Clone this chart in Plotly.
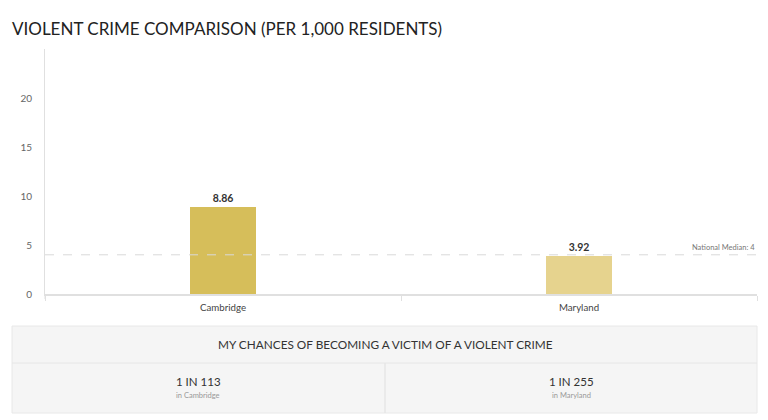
import plotly.graph_objects as go

categories = ["Cambridge", "Maryland"]
values = [8.86, 3.92]
bar_colors = ["#D6BE5A", "#E6D38E"]
national_median = 4
odds = [113, 255]
title_text = "VIOLENT CRIME COMPARISON (PER 1,000 RESIDENTS)"
table_header = "MY CHANCES OF BECOMING A VICTIM OF A VIOLENT CRIME"

W, H = 768, 420
L, R, T, B = 45, 757, 49, 294  # plot area in pixels

def px(x):
    return (x - L) / (R - L)

def py(y):
    return (B - y) / (B - T)

FONT = "Lato, 'Open Sans', sans-serif"

fig = go.Figure()
fig.add_trace(go.Bar(
    x=categories, y=values, width=0.183,
    marker=dict(color=bar_colors, line=dict(width=0)),
    text=[f"{v:.2f}" for v in values], textposition="outside",
    textfont=dict(family=FONT, size=10.5, color="#333333"),
    texttemplate="<b>%{text}</b>", cliponaxis=False, hoverinfo="skip",
))

shapes = [
    dict(type="line", xref="paper", yref="y", x0=0, x1=1, y0=national_median, y1=national_median,
         line=dict(color="#D9D9D9", width=1, dash="dash"), layer="above"),
    # table
    dict(type="rect", xref="paper", yref="paper", x0=px(12), x1=px(757), y0=py(413), y1=py(326),
         fillcolor="#F5F5F5", line=dict(color="#E8E8E8", width=1), layer="below"),
    dict(type="line", xref="paper", yref="paper", x0=px(12), x1=px(757), y0=py(363), y1=py(363),
         line=dict(color="#E6E6E6", width=1)),
    dict(type="line", xref="paper", yref="paper", x0=px(385), x1=px(385), y0=py(413), y1=py(363),
         line=dict(color="#E6E6E6", width=1.5)),
    # y-axis line extension below the x axis
    dict(type="line", xref="paper", yref="paper", x0=0, x1=0, y0=py(299), y1=0,
         line=dict(color="#E0E0E0", width=1)),
]

annotations = [
    dict(text=f"National Median: {national_median}", xref="paper", yref="y", x=1, y=national_median,
         xanchor="right", yanchor="bottom", yshift=1, showarrow=False,
         font=dict(family=FONT, size=7.5, color="#777777")),
    dict(text=table_header, xref="paper", yref="paper", x=px(385), y=py(344),
         xanchor="center", yanchor="middle", showarrow=False,
         font=dict(family=FONT, size=11.8, color="#333333")),
]
cell_centers = [198, 571]
for c, o, cx in zip(categories, odds, cell_centers):
    annotations.append(dict(text=f"1 IN {o}", xref="paper", yref="paper", x=px(cx), y=py(381),
                            xanchor="center", yanchor="middle", showarrow=False,
                            font=dict(family=FONT, size=11.5, color="#333333")))
    annotations.append(dict(text=f"in {c}", xref="paper", yref="paper", x=px(cx), y=py(395),
                            xanchor="center", yanchor="middle", showarrow=False,
                            font=dict(family=FONT, size=7.5, color="#999999")))

fig.update_layout(
    width=W, height=H,
    margin=dict(l=L, r=W - R, t=T, b=H - B, pad=0),
    paper_bgcolor="white", plot_bgcolor="white",
    showlegend=False,
    title=dict(text=title_text, x=12 / W, xref="container", xanchor="left",
               y=1 - 29 / H, yref="container", yanchor="middle",
               font=dict(family=FONT, size=17, color="#222222")),
    font=dict(family=FONT),
    shapes=shapes, annotations=annotations,
    bargap=0,
)
fig.update_xaxes(showline=True, linecolor="#E0E0E0", linewidth=1.5,
                 ticks="outside", tickson="boundaries", ticklen=5, tickcolor="#E0E0E0",
                 ticklabelstandoff=4,
                 tickfont=dict(family=FONT, size=9.7, color="#444444"),
                 showgrid=False, zeroline=False, fixedrange=True)
fig.update_yaxes(range=[0, 25], tickvals=[0, 5, 10, 15, 20], showline=True,
                 linecolor="#E0E0E0", linewidth=1, showgrid=False, zeroline=False,
                 ticks="", ticklabelstandoff=10,
                 tickfont=dict(family=FONT, size=10, color="#666666"), fixedrange=True)

fig.write_html("out.html", config={"displayModeBar": False},
               post_script="document.body.style.margin='0';document.body.style.overflow='hidden';")
